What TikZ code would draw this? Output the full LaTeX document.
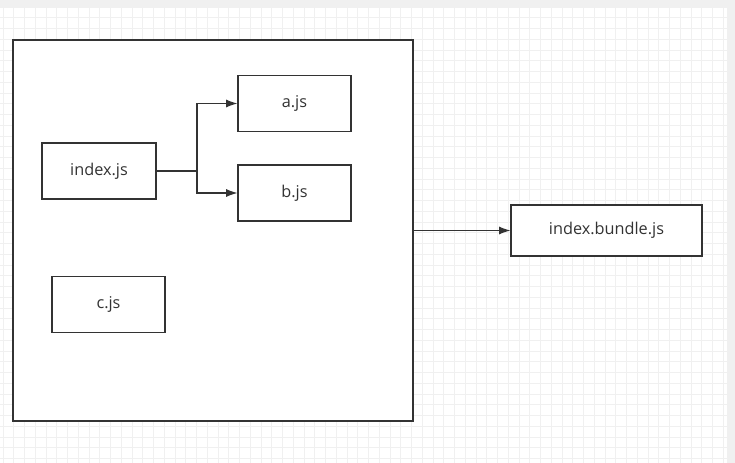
\documentclass[tikz,border=0pt]{standalone}
\usepackage{fontspec}
\setmainfont{Open Sans}
\usetikzlibrary{positioning, arrows.meta}

\definecolor{gridgray}{HTML}{F0F0F0}
\definecolor{bandgray}{HTML}{F0F0F0}
\definecolor{linegray}{HTML}{333333}

\newlength{\px}
\setlength{\px}{0.75pt}

\tikzset{
    filebox/.style = {draw=linegray, fill=white, line width=0.8pt,
                      minimum width=113\px, minimum height=56\px,
                      inner sep=0pt, font=\fontsize{12.2pt}{14pt}\selectfont,
                      text=linegray},
    link/.style    = {draw=linegray, line width=0.8pt,
                      -{Latex[length=8.5pt, width=6pt]}}
}

\begin{document}
\begin{tikzpicture}[x = {(0.75pt,0)},
                    y = {(0,-0.75pt)}]

    \useasboundingbox (0,0) rectangle (735,463);

    % background
    \fill[white] (0,0) rectangle (735,463);
    \fill[bandgray] (0,0) rectangle (735,7);
    \fill[bandgray] (727,0) rectangle (735,463);
    \foreach \gx in {3,13.75,...,727}
        \draw[gridgray, line width=0.5pt] (\gx,7) -- (\gx,463);
    \foreach \gy in {7,17.75,...,463}
        \draw[gridgray, line width=0.5pt] (0,\gy) -- (727,\gy);

    % source folder
    \draw[linegray, fill=white, line width=0.8pt] (13,40) rectangle (413,421);
    \coordinate (src) at (413,230.5);

    \node[filebox, minimum width=114\px] (index) at (99,171) {index.js};
    \node[filebox] (a) at (294.5,103.5) {a.js};
    \node[filebox] (b) at (294.5,193) {b.js};
    \node[filebox] (c) at (108.5,304.5) {c.js};
    \node[filebox, minimum width=191\px, minimum height=51\px]
        (bundle) at (606.5,230.5) {index.bundle.js};

    \coordinate (fork) at (197,171);
    \draw[linegray, line width=0.8pt] (index.east) -- (fork);
    \draw[link] (fork) |- (a.west);
    \draw[link] (fork) |- (b.west);

    \draw[link] (src) -- (bundle.west);

\end{tikzpicture}
\end{document}
